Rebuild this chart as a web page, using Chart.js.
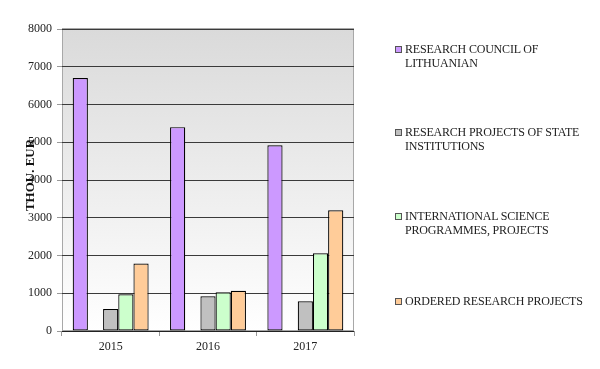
<!DOCTYPE html>
<html>
<head>
<meta charset="utf-8">
<script src="https://cdn.jsdelivr.net/npm/chart.js@4/dist/chart.umd.min.js"></script>
<style>
  html,body{margin:0;padding:0;background:#fff;}
  #wrap{position:relative;width:600px;height:369px;}
  #legend{position:absolute;left:0;top:0;font-family:"Liberation Serif","Times New Roman",serif;font-size:12px;color:#222;}
  .lg{position:absolute;left:393px;width:207px;line-height:14px;padding-left:12px;letter-spacing:-0.2px;}
  .lg i{position:absolute;left:2px;top:4px;width:5px;height:5px;border:1px solid #555;}
</style>
</head>
<body>
<div id="wrap">
  <canvas id="c" width="600" height="369"></canvas>
  <div id="legend"></div>
</div>
<script>
// categories / series (thou. EUR)
const years = ["2015", "2016", "2017"];
const councilVals = [6700, 5400, 4920];
const otherVals = [25, 0, 0]; // unnamed series, not in legend
const stateVals = [580, 920, 786];
const intlVals = [975, 1025, 2060];
const orderedVals = [1790, 1065, 3200];

const legendNames = [
  ["RESEARCH COUNCIL OF", "LITHUANIAN"],
  ["RESEARCH PROJECTS OF STATE", "INSTITUTIONS"],
  ["INTERNATIONAL SCIENCE", "PROGRAMMES, PROJECTS"],
  ["ORDERED RESEARCH PROJECTS"]
];
const legendColors = ["#cc99ff", "#c0c0c0", "#ccffcc", "#ffcc99"];
const legendTops = [42, 125, 209, 294];

const FONT = "'Liberation Serif', 'Times New Roman', serif";

// plot backdrop gradient + frame
const plotBg = {
  id: "plotBg",
  beforeDraw(chart){
    const {ctx, chartArea:a} = chart;
    const g = ctx.createLinearGradient(0, a.top, 0, a.bottom);
    g.addColorStop(0, "#dadada");
    g.addColorStop(1, "#ffffff");
    ctx.save();
    ctx.fillStyle = g;
    ctx.fillRect(a.left, a.top, a.right - a.left, a.bottom - a.top);
    ctx.strokeStyle = "#a8a8a8";
    ctx.lineWidth = 1;
    ctx.strokeRect(a.left + 0.5, a.top - 0.5, a.right - a.left - 1, a.bottom - a.top);
    ctx.restore();
  },
  afterDraw(chart){
    const {ctx, chartArea:a} = chart;
    ctx.save();
    ctx.strokeStyle = "#222";
    ctx.beginPath();
    ctx.moveTo(a.left, Math.round(a.bottom) + 0.5);
    ctx.lineTo(a.right, Math.round(a.bottom) + 0.5);
    ctx.stroke();
    // y title, sits over the tick labels like the original
    ctx.translate(31, 175);
    ctx.rotate(-Math.PI / 2);
    ctx.fillStyle = "#111";
    ctx.font = "bold 13px " + FONT;
    ctx.textAlign = "center";
    ctx.textBaseline = "middle";
    ctx.fillText("THOU. EUR", 0, 0);
    ctx.restore();
  }
};

function ds(label, data, color){
  return {label, data, backgroundColor: color, borderColor: "#000", borderWidth: 1.2,
          borderSkipped: false, barPercentage: 1, categoryPercentage: 0.78};
}

new Chart(document.getElementById("c"), {
  type: "bar",
  data: {
    labels: years,
    datasets: [
      ds(legendNames[0].join(" "), councilVals, legendColors[0]),
      ds("", otherVals, "#000000"),
      ds(legendNames[1].join(" "), stateVals, legendColors[1]),
      ds(legendNames[2].join(" "), intlVals, legendColors[2]),
      ds(legendNames[3].join(" "), orderedVals, legendColors[3])
    ]
  },
  options: {
    responsive: false,
    animation: false,
    layout: {padding: {left: 0, right: 246, top: 29, bottom: 0}},
    plugins: {legend: {display: false}, tooltip: {enabled: false}},
    scales: {
      x: {
        grid: {display: true, drawOnChartArea: false, offset: true, tickLength: 5, tickColor: "#999"},
        border: {display: false},
        ticks: {color: "#222", padding: 4, font: {family: FONT, size: 12}},
        afterFit(s){ s.height = 38; }
      },
      y: {
        min: 0, max: 8000,
        ticks: {stepSize: 1000, color: "#222", padding: 5, font: {family: FONT, size: 12},
                callback: v => String(v)},
        grid: {color: "#3a3a3a", tickLength: 5, tickColor: "#999"},
        border: {display: false},
        afterFit(s){ s.width = 62; }
      }
    }
  },
  plugins: [plotBg]
});

// legend as html text
const lg = document.getElementById("legend");
legendNames.forEach((lines, i) => {
  const d = document.createElement("div");
  d.className = "lg";
  d.style.top = legendTops[i] + "px";
  d.innerHTML = '<i style="background:' + legendColors[i] + '"></i>' + lines.join("<br>");
  lg.appendChild(d);
});
</script>
</body>
</html>
